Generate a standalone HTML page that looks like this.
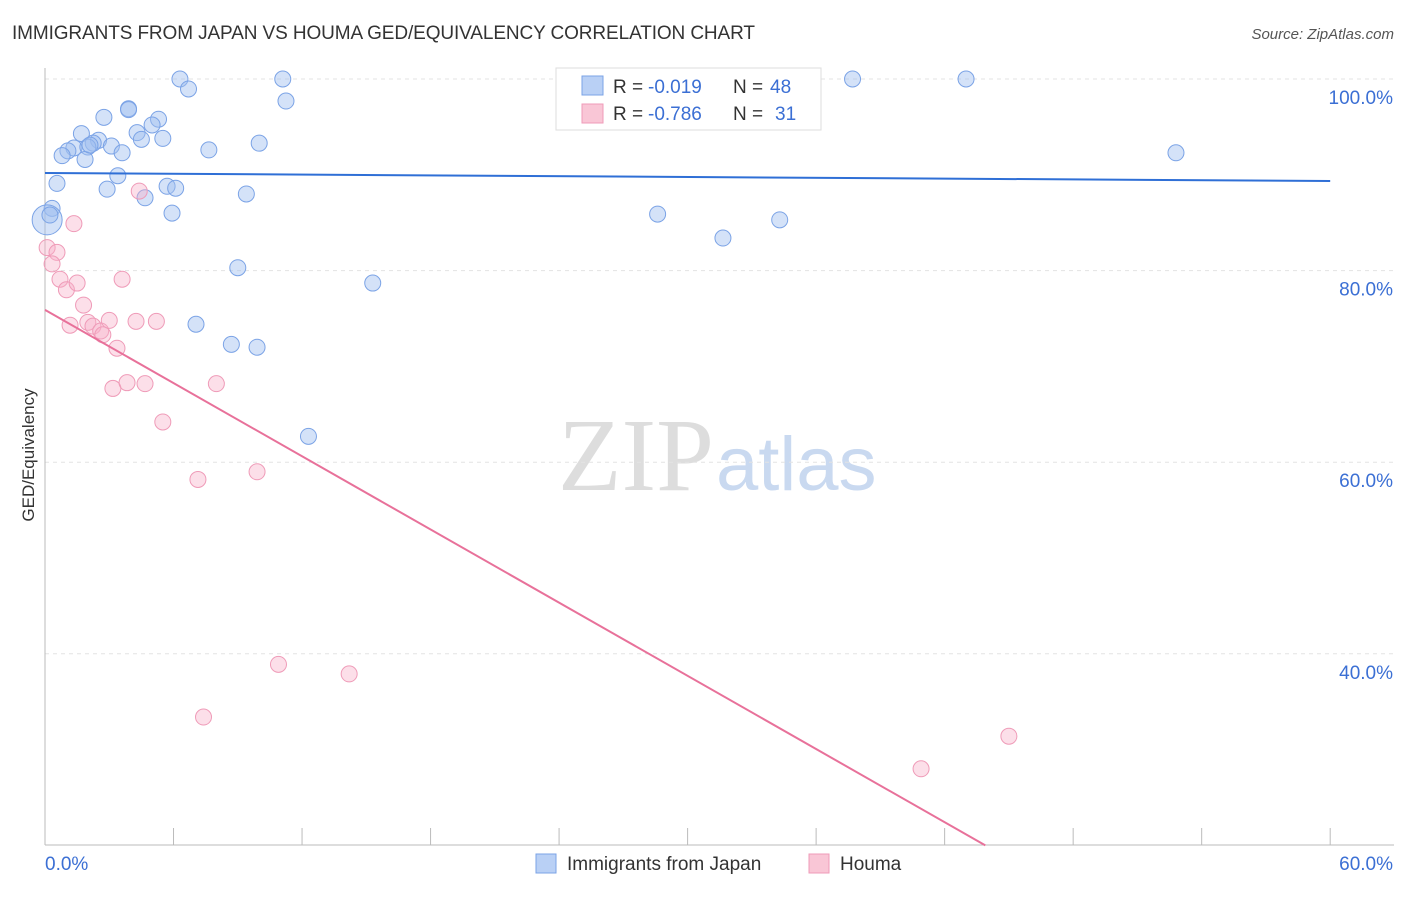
<!DOCTYPE html>
<html><head><meta charset="utf-8"><style>
body{margin:0;background:#fff;font-family:"Liberation Sans",sans-serif;}
</style></head><body>
<svg width="1406" height="892" viewBox="0 0 1406 892" xmlns="http://www.w3.org/2000/svg">
<text x="12" y="39" font-size="19" fill="#333" textLength="743">IMMIGRANTS FROM JAPAN VS HOUMA GED/EQUIVALENCY CORRELATION CHART</text>
<text x="1394" y="39" font-size="15" fill="#555" font-style="italic" text-anchor="end">Source: ZipAtlas.com</text>
<text x="714" y="490" font-size="104" fill="#ddd" text-anchor="end" font-family="Liberation Serif,serif">ZIP</text>
<text x="716" y="490" font-size="76" fill="#c9d9f0">atlas</text>
<g id="grid"></g><g id="axes"></g><g id="marks"></g>
<text transform="translate(34,455) rotate(-90)" font-size="17" fill="#333" text-anchor="middle">GED/Equivalency</text>
<g>
<rect x="556" y="68" width="265" height="62" fill="#fff" stroke="#ddd"/>
<rect x="582" y="76" width="21" height="19" fill="#b9d0f5" stroke="#7ba3e6"/>
<rect x="582" y="104" width="21" height="19" fill="#f9c6d6" stroke="#ef9bb8"/>
<text x="613" y="93" font-size="19" fill="#333">R =</text>
<text x="648" y="93" font-size="19" fill="#3b6fd4">-0.019</text>
<text x="733" y="93" font-size="19" fill="#333">N =</text>
<text x="770" y="93" font-size="19" fill="#3b6fd4">48</text>
<text x="613" y="120" font-size="19" fill="#333">R =</text>
<text x="648" y="120" font-size="19" fill="#3b6fd4">-0.786</text>
<text x="733" y="120" font-size="19" fill="#333">N =</text>
<text x="775" y="120" font-size="19" fill="#3b6fd4">31</text>
</g>
<g>
<rect x="536" y="854" width="20" height="19" fill="#b9d0f5" stroke="#7ba3e6"/>
<text x="567" y="870" font-size="19" fill="#333">Immigrants from Japan</text>
<rect x="809" y="854" width="20" height="19" fill="#f9c6d6" stroke="#ef9bb8"/>
<text x="840" y="870" font-size="19" fill="#333">Houma</text>
</g>
</svg>
<script>
const blueX=[6.3,11.1,37.7,43.0,6.7,11.25,2.75,3.9,3.9,5.3,5.0,1.7,4.3,2.5,4.5,5.5,2.25,3.1,10.0,1.35,1.07,0.8,2.0,3.6,7.65,1.87,52.8,3.4,0.56,2.9,5.7,6.1,9.4,4.67,0.33,0.1,5.93,28.6,34.3,31.65,9.0,15.3,7.05,8.7,9.9,12.3,0.23,2.1];
const blueY=[100,100,100,100,98.96,97.7,96.0,96.9,96.8,95.8,95.2,94.3,94.4,93.6,93.7,93.8,93.3,93.0,93.3,92.8,92.5,92.0,92.9,92.3,92.6,91.6,92.3,89.9,89.1,88.5,88.8,88.6,88.0,87.6,86.5,85.3,86.0,85.9,85.3,83.4,80.3,78.7,74.4,72.3,72.0,62.7,85.8,93.1];
const pinkX=[0.1,0.56,0.33,1.35,0.7,1.0,1.5,3.6,4.4,1.8,1.17,2.0,2.24,2.6,2.7,3.0,4.25,5.2,3.36,3.17,3.83,4.67,8.0,5.5,7.14,9.9,10.9,14.2,7.4,45.0,40.9];
const pinkY=[82.4,81.9,80.7,84.9,79.1,78.0,78.7,79.1,88.3,76.4,74.3,74.6,74.2,73.7,73.3,74.8,74.7,74.7,71.9,67.7,68.3,68.2,68.2,64.2,58.2,59.0,38.9,37.9,33.4,31.4,28.0];
const yTicks=[100,80,60,40];
const blueTrend=[[0,90.19],[60,89.35]];
const pinkTrend=[[0,75.9],[43.9,20]];
const X=v=>45+v*21.42, Y=v=>79+(100-v)*9.58;
const NS="http://www.w3.org/2000/svg";
function mk(tag,attrs,parent){const e=document.createElementNS(NS,tag);for(const k in attrs)e.setAttribute(k,attrs[k]);document.getElementById(parent).appendChild(e);return e;}
yTicks.forEach(t=>{
 const l=mk('line',{x1:45,x2:1394,y1:Y(t),y2:Y(t),stroke:'#e3e3e3','stroke-dasharray':'4,4'},'grid');
 
 
 const tx=mk('text',{x:1393,y:Y(t)+25,'font-size':19,fill:'#3b6fd4','text-anchor':'end'},'grid');
 tx.textContent=t.toFixed(1)+'%';
 
 
});
const ax=mk('line',{x1:45,x2:1394,y1:845,y2:845,stroke:'#bbb'},'axes');


const ay=mk('line',{x1:45,x2:45,y1:68,y2:845,stroke:'#bbb'},'axes');


for(let i=0;i<=10;i++){const t=mk('line',{x1:X(i*6),x2:X(i*6),y1:828,y2:845,stroke:'#bbb'},'axes');
 
 }
[['0.0%',45,'start'],['60.0%',1393,'end']].forEach(a=>{const t=mk('text',{x:a[1],y:870,'font-size':19,fill:'#3b6fd4','text-anchor':a[2]},'axes');t.textContent=a[0];
 
 });
blueX.forEach((x,i)=>{const c=mk('circle',{cx:X(x),cy:Y(blueY[i]),r:(i==35?15:8),fill:'rgba(160,190,240,0.45)',stroke:'#7ba3e6','stroke-width':1},'marks');
 
 });
pinkX.forEach((x,i)=>{const c=mk('circle',{cx:X(x),cy:Y(pinkY[i]),r:8,fill:'rgba(247,175,200,0.4)',stroke:'#ef9bb8','stroke-width':1},'marks');
 
 });
const bl=mk('line',{x1:X(blueTrend[0][0]),y1:Y(blueTrend[0][1]),x2:X(blueTrend[1][0]),y2:Y(blueTrend[1][1]),stroke:'#2f6fd6','stroke-width':2},'marks');


const pl=mk('line',{x1:X(pinkTrend[0][0]),y1:Y(pinkTrend[0][1]),x2:X(pinkTrend[1][0]),y2:Y(pinkTrend[1][1]),stroke:'#e8719a','stroke-width':2},'marks');


</script>
</body></html>
